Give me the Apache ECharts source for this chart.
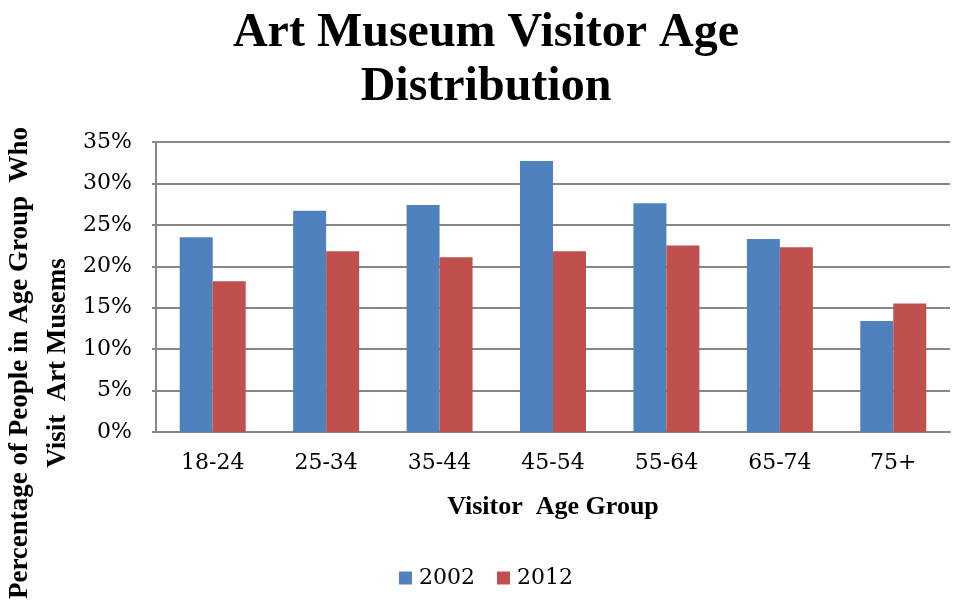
<!DOCTYPE html>
<html>
<head>
<meta charset="utf-8">
<script src="https://cdn.jsdelivr.net/npm/echarts@6/dist/echarts.min.js"></script>
<style>
  html, body { margin: 0; padding: 0; background: #ffffff; }
  #chart { width: 953px; height: 604px; }
</style>
</head>
<body>
<div id="chart"></div>
<script>
// Age groups along the x axis
var ageGroups = ['18-24', '25-34', '35-44', '45-54', '55-64', '65-74', '75+'];
// Share of each age group visiting art museums (percent)
var visits2002 = [23.5, 26.7, 27.4, 32.7, 27.6, 23.3, 13.4];
var visits2012 = [18.2, 21.8, 21.1, 21.8, 22.5, 22.3, 15.5];
var seriesNames = ['2002', '2012'];
// Y axis range and step (percent)
var yMin = 0, yMax = 35, yStep = 5;

var serifRegular = 'DejaVu Serif';
var serifBold = 'Liberation Serif';
var gridGray = '#878787';

var chart = echarts.init(document.getElementById('chart'), null, { renderer: 'canvas' });

chart.setOption({
  animation: false,
  backgroundColor: '#ffffff',
  title: {
    text: 'Art Museum Visitor Age\nDistribution',
    left: 481,
    top: 2,
    textAlign: 'center',
    textStyle: {
      fontFamily: serifBold,
      fontWeight: 'bold',
      fontSize: 48,
      lineHeight: 54,
      color: '#000000'
    }
  },
  legend: {
    data: seriesNames,
    left: 394,
    top: 562,
    itemWidth: 13,
    itemHeight: 13,
    itemGap: 22,
    icon: 'rect',
    textStyle: {
      fontFamily: serifRegular,
      fontSize: 22,
      color: '#000000',
      padding: [0, 0, 0, 2]
    }
  },
  grid: {
    left: 156,
    right: 3,
    top: 142,
    bottom: 172,
    containLabel: false
  },
  xAxis: {
    type: 'category',
    data: ageGroups,
    name: 'Visitor  Age Group',
    nameLocation: 'middle',
    nameGap: 62,
    nameTextStyle: {
      fontFamily: serifBold,
      fontWeight: 'bold',
      fontSize: 26,
      color: '#000000'
    },
    axisLine: { show: true, lineStyle: { color: gridGray, width: 2 } },
    axisTick: { show: false },
    axisLabel: {
      margin: 20,
      fontFamily: serifRegular,
      fontSize: 22,
      color: '#000000'
    }
  },
  yAxis: {
    type: 'value',
    min: yMin,
    max: yMax,
    interval: yStep,
    axisLine: { show: true, lineStyle: { color: gridGray, width: 2 } },
    axisTick: { show: true, length: 4, lineStyle: { color: gridGray, width: 2 } },
    splitLine: { show: true, lineStyle: { color: gridGray, width: 2 } },
    axisLabel: {
      margin: 24,
      fontFamily: serifRegular,
      fontSize: 22,
      color: '#000000',
      formatter: function (v) { return v + '%'; }
    }
  },
  graphic: [{
    type: 'text',
    x: 39,
    y: 363,
    rotation: Math.PI / 2,
    style: {
      text: 'Percentage of People in Age Group  Who\nVisit  Art Musems',
      fontFamily: serifBold,
      fontWeight: 'bold',
      fontSize: 27,
      lineHeight: 38,
      fill: '#000000',
      align: 'center',
      verticalAlign: 'middle'
    }
  }],
  series: [{
    name: seriesNames[0],
    type: 'bar',
    data: visits2002,
    barWidth: 33,
    barGap: '0%',
    itemStyle: { color: '#4F81BD' }
  }, {
    name: seriesNames[1],
    type: 'bar',
    data: visits2012,
    barWidth: 33,
    barGap: '0%',
    itemStyle: { color: '#C0504D' }
  }]
});
</script>
</body>
</html>
